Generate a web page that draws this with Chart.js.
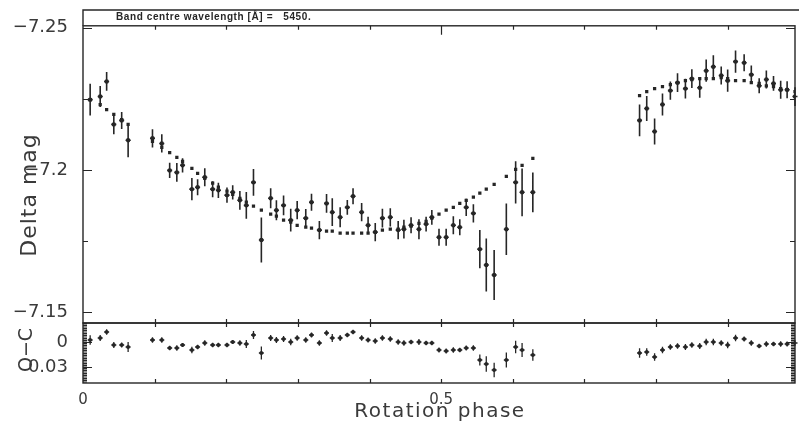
<!DOCTYPE html>
<html><head><meta charset="utf-8">
<script src="https://cdn.jsdelivr.net/npm/chart.js@4/dist/chart.umd.min.js"></script>
<style>
html,body{margin:0;padding:0;background:#fff;}
#wrap{position:relative;width:799px;height:428px;overflow:hidden;}
#wrap canvas{position:absolute;left:0;top:0;}
</style></head><body>
<div id="wrap"><canvas id="cTop" width="799" height="428"></canvas><canvas id="cBot" width="799" height="428"></canvas></div>
<script>
// ---------------- data ----------------
const phase = [0.010,0.024,0.033,0.043,0.054,0.063,0.097,0.110,0.121,0.131,0.139,0.152,0.160,0.170,0.181,0.189,0.201,0.209,0.219,0.228,0.238,0.249,0.262,0.270,0.280,0.290,0.299,0.311,0.319,0.330,0.340,0.348,0.359,0.369,0.377,0.389,0.398,0.408,0.418,0.429,0.440,0.448,0.458,0.469,0.479,0.487,0.497,0.507,0.517,0.526,0.535,0.545,0.554,0.563,0.574,0.591,0.604,0.613,0.628,0.777,0.787,0.798,0.809,0.820,0.830,0.841,0.850,0.861,0.870,0.880,0.891,0.900,0.911,0.923,0.933,0.944,0.954,0.964,0.974,0.983,0.994];
const deltaMag = [-7.2247,-7.2258,-7.2311,-7.2160,-7.2174,-7.2104,-7.2111,-7.2093,-7.1998,-7.1991,-7.2016,-7.1932,-7.1939,-7.1974,-7.1932,-7.1928,-7.1911,-7.1921,-7.1893,-7.1875,-7.1956,-7.1753,-7.1900,-7.1858,-7.1875,-7.1823,-7.1858,-7.1830,-7.1886,-7.1788,-7.1882,-7.1851,-7.1833,-7.1868,-7.1907,-7.1851,-7.1805,-7.1781,-7.1830,-7.1833,-7.1788,-7.1791,-7.1805,-7.1791,-7.1809,-7.1833,-7.1763,-7.1763,-7.1805,-7.1798,-7.1868,-7.1847,-7.1721,-7.1665,-7.1630,-7.1791,-7.1956,-7.1921,-7.1921,-7.2174,-7.2216,-7.2135,-7.2230,-7.2279,-7.2307,-7.2286,-7.2321,-7.2289,-7.2349,-7.2363,-7.2332,-7.2314,-7.2381,-7.2377,-7.2335,-7.2296,-7.2318,-7.2304,-7.2282,-7.2282,-7.2258];
const magErr = [0.0056,0.0037,0.0033,0.0035,0.0030,0.0060,0.0032,0.0032,0.0027,0.0033,0.0025,0.0039,0.0028,0.0032,0.0028,0.0027,0.0027,0.0025,0.0033,0.0047,0.0047,0.0079,0.0035,0.0035,0.0035,0.0040,0.0032,0.0032,0.0030,0.0032,0.0033,0.0049,0.0035,0.0026,0.0028,0.0032,0.0030,0.0032,0.0033,0.0032,0.0032,0.0033,0.0028,0.0035,0.0026,0.0026,0.0030,0.0030,0.0032,0.0028,0.0030,0.0032,0.0067,0.0093,0.0088,0.0091,0.0074,0.0084,0.0070,0.0056,0.0044,0.0046,0.0039,0.0032,0.0033,0.0035,0.0033,0.0035,0.0039,0.0040,0.0032,0.0039,0.0039,0.0030,0.0032,0.0026,0.0032,0.0026,0.0032,0.0030,0.0033];
const modelMag = [-7.2247,-7.2230,-7.2212,-7.2195,-7.2177,-7.2160,-7.2100,-7.2079,-7.2061,-7.2044,-7.2030,-7.2005,-7.1988,-7.1970,-7.1953,-7.1939,-7.1925,-7.1914,-7.1900,-7.1886,-7.1872,-7.1858,-7.1844,-7.1837,-7.1823,-7.1816,-7.1805,-7.1798,-7.1795,-7.1788,-7.1784,-7.1784,-7.1777,-7.1777,-7.1777,-7.1777,-7.1777,-7.1781,-7.1788,-7.1791,-7.1791,-7.1798,-7.1802,-7.1812,-7.1819,-7.1830,-7.1844,-7.1858,-7.1868,-7.1882,-7.1893,-7.1904,-7.1918,-7.1932,-7.1949,-7.1977,-7.2002,-7.2016,-7.2040,-7.2261,-7.2275,-7.2286,-7.2293,-7.2300,-7.2307,-7.2314,-7.2318,-7.2321,-7.2321,-7.2321,-7.2325,-7.2321,-7.2314,-7.2314,-7.2307,-7.2304,-7.2296,-7.2293,-7.2286,-7.2282,-7.2275];
const residual = [-0.0024,-0.0048,-0.0120,0.0036,0.0036,0.0060,-0.0024,-0.0024,0.0072,0.0072,0.0036,0.0096,0.0060,0.0012,0.0036,0.0036,0.0036,0.0000,0.0012,0.0024,-0.0084,0.0132,-0.0048,-0.0024,-0.0036,0.0000,-0.0048,-0.0024,-0.0084,0.0012,-0.0108,-0.0048,-0.0048,-0.0084,-0.0120,-0.0048,-0.0024,-0.0012,-0.0048,-0.0036,0.0000,0.0012,0.0000,0.0000,0.0012,0.0012,0.0096,0.0108,0.0096,0.0096,0.0072,0.0072,0.0216,0.0264,0.0336,0.0216,0.0060,0.0096,0.0156,0.0132,0.0120,0.0180,0.0096,0.0060,0.0048,0.0060,0.0036,0.0048,0.0000,0.0000,0.0012,0.0036,-0.0048,-0.0036,0.0012,0.0048,0.0024,0.0024,0.0024,0.0024,0.0012];

const magTicks = [-7.25,-7.225,-7.2,-7.175,-7.15];
const magTickLabels = ['\u22127.25','','\u22127.2','','\u22127.15'];
const ocTicks = [0,0.03];
const ocTickLabels = ['0','0.03'];
const phaseTicks = [0,0.1,0.2,0.3,0.4,0.5,0.6,0.7,0.8,0.9];
const phaseTickLabels = ['0','','','','','0.5','','','',''];
const boxTitle = 'Band centre wavelength [\u00C5] =   5450.';
const yTitleTop = 'Delta mag';
const yTitleBot = 'O\u2212C';
const xTitle = 'Rotation phase';

// ---------------- drawing ----------------
const INK = '#262626';
const TXT = '#3a3a3a';
const FONT = "'DejaVu Sans', sans-serif";
Chart.defaults.font.family = FONT;
Chart.defaults.color = TXT;
Chart.defaults.animation = false;

const pts = ys => phase.map((p,i)=>({x:p, y:ys[i]}));

function errBars(errors, width){
  return {id:'errBars', beforeDatasetsDraw(chart){
    const {ctx, scales:{x:xs, y:ys}} = chart;
    const data = chart.data.datasets[chart.data.datasets.length-1].data;
    ctx.save(); ctx.strokeStyle = INK; ctx.lineWidth = width;
    ctx.beginPath();
    data.forEach((p,i)=>{
      const x = xs.getPixelForValue(p.x);
      ctx.moveTo(x, ys.getPixelForValue(p.y - errors[i]));
      ctx.lineTo(x, ys.getPixelForValue(p.y + errors[i]));
      const yc = ys.getPixelForValue(p.y);
      ctx.moveTo(x-2.5, yc); ctx.lineTo(x+2.5, yc);
    });
    ctx.stroke(); ctx.restore();
  }};
}

function frame(cfg){
  return {id:'frame', afterDraw(chart){
    const {ctx, chartArea:a, scales:{x:xs, y:ys}} = chart;
    ctx.save();
    ctx.strokeStyle = INK; ctx.lineWidth = 1.4;
    ctx.strokeRect(a.left, a.top, a.right-a.left, a.bottom-a.top);
    ctx.lineWidth = 1.2;
    ctx.beginPath();
    phaseTicks.forEach(v=>{
      if (v <= xs.min) return;
      const x = Math.round(xs.getPixelForValue(v))+0.5;
      const lt = (cfg.longX && v === 0.5) ? 9 : 4;
      ctx.moveTo(x, a.top); ctx.lineTo(x, a.top+lt);
      ctx.moveTo(x, a.bottom); ctx.lineTo(x, a.bottom-4);
    });
    cfg.yTicks.forEach((v,i)=>{
      const y = Math.round(ys.getPixelForValue(v))+0.5;
      const l = cfg.yLabels[i] ? 9 : 5;
      ctx.moveTo(a.left, y); ctx.lineTo(a.left+l, y);
      ctx.moveTo(a.right, y); ctx.lineTo(a.right-l, y);
    });
    if (cfg.dense){
      for (let v = cfg.dense[0]; v <= cfg.dense[1]+1e-9; v += cfg.dense[2]){
        const y = ys.getPixelForValue(v);
        if (y < a.top || y > a.bottom) continue;
        ctx.moveTo(a.left, y); ctx.lineTo(a.left+4, y);
        ctx.moveTo(a.right, y); ctx.lineTo(a.right-4, y);
      }
    }
    ctx.stroke();
    if (cfg.titleBox){
      ctx.lineWidth = 1.4;
      ctx.beginPath();
      ctx.moveTo(a.left, a.top); ctx.lineTo(a.left, 10); ctx.lineTo(chart.width, 10);
      ctx.stroke();
      ctx.fillStyle = INK;
      ctx.font = "bold 10px 'Liberation Sans', sans-serif";
      if ('letterSpacing' in ctx) ctx.letterSpacing = '0.6px';
      ctx.textBaseline = 'middle';
      ctx.fillText(boxTitle, 116, 17.5);
      if ('letterSpacing' in ctx) ctx.letterSpacing = '0px';
    }
    // axis titles
    ctx.fillStyle = TXT;
    ctx.textAlign = 'center'; ctx.textBaseline = 'middle';
    cfg.titles.forEach(t=>{
      ctx.save();
      ctx.translate(t.x, t.y);
      if (t.rot) ctx.rotate(-Math.PI/2);
      ctx.font = t.size + 'px ' + FONT;
      if ('letterSpacing' in ctx) ctx.letterSpacing = (t.ls||0) + 'px';
      ctx.fillText(t.text, 0, 0);
      ctx.restore();
    });
    ctx.restore();
  }};
}

const yAxisBase = (ticks, labels, min, max) => ({
  type:'linear', reverse:true, min:min, max:max,
  grid:{display:false, drawTicks:false}, border:{display:false},
  afterBuildTicks(s){ s.ticks = ticks.map(v=>({value:v})); },
  afterFit(s){ s.width = 83; },
  ticks:{ padding:15, font:{size:18}, color:TXT,
    callback:(v,i)=>labels[i] }
});

new Chart(document.getElementById('cTop'), {
  type:'scatter',
  data:{ datasets:[
    { label:'model', data: pts(modelMag), pointStyle:'rect', pointRadius:2.3,
      backgroundColor:INK, borderWidth:0 },
    { label:'observed', data: pts(deltaMag), pointStyle:'circle', pointRadius:2.2,
      backgroundColor:INK, borderWidth:0 }
  ]},
  options:{
    responsive:false, maintainAspectRatio:false,
    layout:{padding:{left:0, top:25, right:2, bottom:105}},
    plugins:{legend:{display:false}, tooltip:{enabled:false}},
    scales:{
      x:{type:'linear', min:0, max:0.994, display:false},
      y: yAxisBase(magTicks, magTickLabels, -7.2507, -7.1461)
    }
  },
  plugins:[errBars(magErr, 1.6), frame({yTicks:magTicks, yLabels:magTickLabels, longX:true, titleBox:true,
    titles:[{text:yTitleTop, x:30, y:195, rot:true, size:22, ls:1}]})]
});

new Chart(document.getElementById('cBot'), {
  type:'scatter',
  data:{ datasets:[
    { label:'O-C', data: pts(residual), pointStyle:'circle', pointRadius:1.9,
      backgroundColor:INK, borderWidth:0 }
  ]},
  options:{
    responsive:false, maintainAspectRatio:false,
    layout:{padding:{left:0, top:323, right:2, bottom:0}},
    plugins:{legend:{display:false}, tooltip:{enabled:false}},
    scales:{
      x:{type:'linear', min:0, max:0.994, position:'bottom',
        grid:{display:false, drawTicks:false}, border:{display:false},
        afterBuildTicks(s){ s.ticks = phaseTicks.map(v=>({value:v})); },
        afterFit(s){ s.height = 45; },
        ticks:{ autoSkip:false, maxRotation:0, padding:8, font:{size:15}, color:TXT,
          callback:(v,i)=>phaseTickLabels[i] }
      },
      y: yAxisBase(ocTicks, ocTickLabels, -0.0228, 0.0492)
    }
  },
  plugins:[errBars(magErr, 1.3), frame({yTicks:ocTicks, yLabels:ocTickLabels, longX:false, titleBox:false,
    dense:[-0.022, 0.048, 0.002],
    titles:[{text:yTitleBot, x:27, y:350, rot:true, size:19},
            {text:xTitle, x:440, y:412, rot:false, size:20, ls:1.5}]})]
});
</script>
</body></html>
